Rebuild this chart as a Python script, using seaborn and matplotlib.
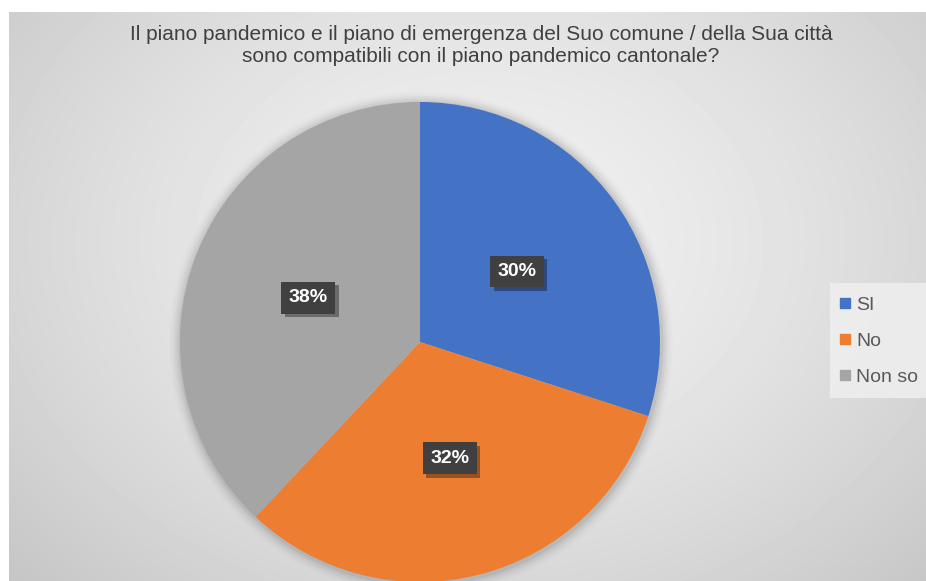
import numpy as np
import matplotlib
matplotlib.use("Agg")
import matplotlib.pyplot as plt
import seaborn as sns
from matplotlib.patches import Circle, Rectangle
import matplotlib.patheffects as pe

# Survey answers
categories = ["SI", "No", "Non so"]
shares = [30, 32, 38]
title_lines = [
    "Il piano pandemico e il piano di emergenza del Suo comune / della Sua città",
    "sono compatibili con il piano pandemico cantonale?",
]

sns.set_theme(style="white")
plt.rcParams["font.family"] = ["Liberation Sans", "DejaVu Sans"]

palette = sns.color_palette(["#4472C4", "#ED7D31", "#A5A5A5"])

W, H = 926, 581
fig = plt.figure(figsize=(W / 100, H / 100), dpi=100)
fig.patch.set_facecolor("white")

# Radial grey gradient behind the chart area
bg = fig.add_axes([9 / W, 0, 1 - 9 / W, 1 - 12 / H])
bg.set_axis_off()
yy, xx = np.mgrid[0:569, 0:917]
cx, cy = 470, 230
d = np.sqrt(((xx - cx) / 560) ** 2 + ((yy - cy) / 430) ** 2)
shade = 0.945 - 0.14 * np.clip(d, 0, 1.2) ** 1.5
bg.imshow(shade, cmap="gray", vmin=0, vmax=1, aspect="auto", interpolation="bilinear")

# Pie axes: circle centred at (420, 342) px with radius 240 px
R = 240
pcx, pcy = 420, 342
ax = fig.add_axes([(pcx - R) / W, (H - pcy - R) / H, 2 * R / W, 2 * R / H])
ax.set_axis_off()
ax.patch.set_alpha(0)

# soft shadow around the pie
for i, a in enumerate([0.06, 0.045, 0.03, 0.02, 0.012]):
    ax.add_patch(Circle((0.004, -0.006), 1 + 0.01 * (i + 1), color="black", alpha=a,
                        lw=0, zorder=0, clip_on=False))

wedges, texts, autotexts = ax.pie(
    shares,
    colors=palette,
    startangle=90,
    counterclock=False,
    autopct=lambda p: f"{p:.0f}%",
    pctdistance=0.5,
    wedgeprops=dict(linewidth=0, clip_on=False),
    radius=1,
)
ax.set_xlim(-1, 1)
ax.set_ylim(-1, 1)

for t in autotexts:
    t.set_color("white")
    t.set_fontsize(14)
    t.set_fontweight("bold")
    t.set_zorder(5)
    t.set_bbox(dict(boxstyle="square,pad=0.38", fc="#404040", ec="none"))
    t.get_bbox_patch().set_path_effects(
        [pe.SimplePatchShadow(offset=(2.5, -2.5), shadow_rgbFace="black", alpha=0.35),
         pe.Normal()])

fig.text(481 / W, 1 - 34 / H, title_lines[0], ha="center", va="center",
         fontsize=15, color="#404040")
fig.text(481 / W, 1 - 56 / H, title_lines[1], ha="center", va="center",
         fontsize=15, color="#404040")

# Legend panel on the right
fig.patches.append(Rectangle((830 / W, 1 - 398 / H), (W - 830) / W, 115 / H,
                             transform=fig.transFigure, fc="#efefef", ec="none",
                             alpha=0.85, zorder=1))
handles = [plt.Line2D([], [], marker="s", ls="none", markersize=7, color=c) for c in palette]
leg = fig.legend(handles, categories, loc="center left",
                 bbox_to_anchor=(839 / W, 1 - 341 / H), frameon=False,
                 fontsize=14, labelcolor="#595959", handlelength=0.6,
                 handletextpad=0.3, labelspacing=0.95, borderaxespad=0,
                 borderpad=0)

fig.savefig("out.png", dpi=100)
